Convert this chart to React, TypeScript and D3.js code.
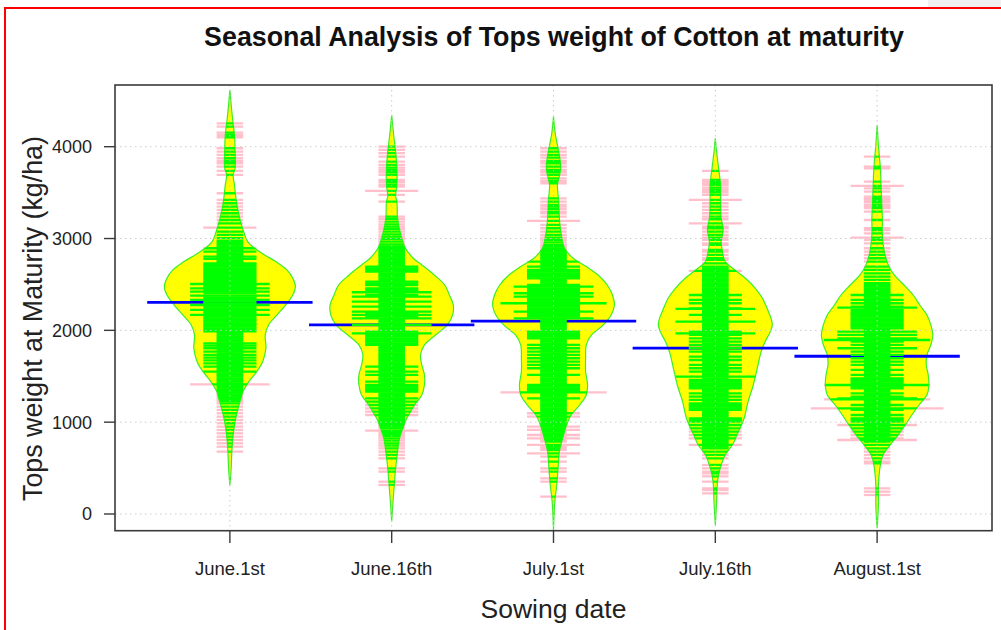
import React from "react";
import * as d3 from "d3";

// ---------- data ----------
const sowingDates = ["June.1st", "June.16th", "July.1st", "July.16th", "August.1st"];
const yTicks = [0, 1000, 2000, 3000, 4000];
const beanMeans = [2305, 2059, 2100, 1806, 1718];

// observations (kg/ha); repeated values = tied observations (longer bean lines)
const juneFirstObs = [
  4255, 4219, 4154, 4128, 4103, 3983, 3947, 3911, 3874, 3845, 3820, 3783, 3736, 3693, 3493, 3420, 3384, 3348, 3311, 3275, 3239, 3202, 3166, 3119, 3119, 3075, 3039, 3003,
  2972, 2951, 2933, 2914, 2894, 2894, 2876, 2858, 2858, 2839, 2820, 2803, 2803, 2785, 2778, 2778, 2761, 2745, 2730, 2730,
  2712, 2712, 2693, 2693, 2675, 2675, 2656, 2656, 2638, 2638, 2619, 2619, 2600, 2600, 2581, 2581, 2562, 2562, 2543, 2543, 2524, 2524, 2505, 2505, 2505,
  2487, 2487, 2470, 2470, 2458, 2458, 2458, 2440, 2440, 2422, 2422, 2422, 2403, 2403, 2378, 2378, 2378, 2360, 2360, 2345, 2345, 2331, 2331, 2331,
  2312, 2312, 2294, 2294, 2276, 2276, 2276, 2258, 2258, 2240, 2240, 2222, 2222, 2222, 2204, 2204, 2186, 2186, 2168, 2168, 2168, 2150, 2150, 2131, 2131,
  2113, 2113, 2095, 2095, 2077, 2077, 2059, 2059, 2041, 2041, 2022, 2022, 2004, 2004, 1990, 1990,
  1972, 1953, 1934, 1915, 1896, 1877, 1859, 1859, 1840, 1833, 1833, 1820, 1805, 1805, 1787, 1768, 1768, 1750, 1732, 1732, 1716, 1703, 1703, 1688,
  1674, 1674, 1658, 1641, 1641, 1623, 1605, 1605, 1587, 1568, 1550, 1550, 1532, 1514, 1496, 1478, 1460, 1441, 1423, 1412, 1412, 1412, 1395, 1377,
  1358, 1340, 1321, 1303, 1285, 1266, 1248, 1230,
  1205, 1169, 1133, 1097, 1060, 1024, 988, 951, 915, 879, 842, 806, 770, 733, 679,
];

const juneSixteenthObs = [
  4001, 3965, 3929, 3892, 3838, 3802, 3772, 3747, 3722, 3693, 3638, 3613, 3584, 3566, 3518, 3518, 3475, 3402, 3239, 3213, 3184, 3155, 3130, 3104,
  3075, 3046, 3021, 2995, 2966, 2937, 2914, 2894, 2876, 2858, 2839,
  2821, 2802, 2783, 2765, 2746, 2728, 2710, 2694, 2694, 2676, 2676, 2658, 2658, 2640, 2640, 2621, 2603, 2585, 2567, 2549, 2531, 2531, 2512, 2512,
  2494, 2494, 2476, 2458, 2458, 2440, 2440, 2422, 2422, 2415, 2415, 2415, 2403, 2385, 2385, 2367, 2367, 2367, 2349, 2331, 2313, 2313, 2313, 2294,
  2276, 2258, 2258, 2258, 2240, 2222, 2204, 2204, 2204, 2186, 2186, 2168, 2168, 2168, 2150, 2150, 2131, 2131, 2131, 2113, 2095, 2077, 2059, 2059, 2059,
  2041, 2022, 2004, 1986, 1986, 1968, 1968, 1968, 1950, 1950, 1932, 1932, 1913, 1913, 1895, 1895, 1877, 1877, 1859, 1859, 1841, 1841,
  1823, 1805, 1787, 1768, 1750, 1732, 1714, 1696, 1678, 1659, 1641, 1623, 1605, 1605, 1587, 1568, 1550, 1550, 1532, 1514, 1514, 1496, 1478, 1460,
  1441, 1441, 1423, 1405, 1405, 1387, 1387, 1369, 1369, 1351, 1351, 1333, 1333, 1314, 1296, 1278, 1260, 1260, 1242, 1224, 1224, 1205, 1187, 1187,
  1169, 1151, 1151, 1133, 1115, 1115, 1097, 1078, 1078, 1060, 1042, 1024, 1006,
  988, 969, 951, 933, 908, 908, 890, 870, 850, 824, 800, 770, 745, 715, 679, 643, 606, 497, 461, 352, 316,
];

const julyFirstObs = [
  3983, 3947, 3911, 3881, 3845, 3820, 3783, 3747, 3722, 3693, 3656, 3627, 3602, 3438, 3402, 3366, 3348, 3322, 3293, 3275, 3239, 3192, 3192,
  3148, 3112, 3075, 3039, 3010, 2985, 2959,
  2930, 2911, 2893, 2875, 2857, 2839, 2821, 2803, 2785, 2767, 2749, 2749, 2731, 2712, 2694, 2694, 2676, 2658, 2658, 2640, 2640, 2621, 2621,
  2603, 2603, 2585, 2585, 2567, 2567, 2549, 2531, 2512, 2494, 2494, 2476, 2476, 2476, 2458, 2458, 2440, 2440, 2422, 2422, 2404, 2404, 2404,
  2385, 2385, 2367, 2367, 2367, 2349, 2349, 2331, 2331, 2313, 2313, 2295, 2295, 2295, 2295, 2276, 2276, 2258, 2258, 2240, 2240, 2222, 2222,
  2204, 2204, 2204, 2186, 2186, 2168, 2168, 2150, 2150, 2131, 2131, 2131, 2113, 2095, 2077, 2059, 2041, 2022, 2004,
  1986, 1986, 1968, 1968, 1950, 1950, 1932, 1932, 1913, 1913, 1895, 1877, 1859, 1841, 1841, 1823, 1805, 1805, 1787, 1768, 1768, 1750,
  1732, 1732, 1714, 1696, 1696, 1678, 1659, 1659, 1641, 1623, 1623, 1605, 1587, 1587, 1568, 1550, 1532, 1514, 1514, 1496, 1478, 1460, 1441, 1423,
  1405, 1405, 1387, 1387, 1369, 1369, 1351, 1351, 1333, 1333, 1325, 1325, 1325, 1325, 1314, 1296, 1278, 1260, 1260, 1242, 1224, 1205, 1187,
  1169, 1151, 1133,
  1115, 1097, 1097, 1078, 1060, 1060, 1042, 1024, 1006, 988, 969, 951, 951, 933, 915, 915, 897, 879, 860, 860, 842, 824, 824, 806, 788,
  752, 752, 733, 715, 697, 661, 661, 625, 570, 497, 461, 388, 352, 189,
];

const julySixteenthObs = [
  3736, 3638, 3620, 3602, 3584, 3555, 3529, 3504, 3475, 3420, 3420, 3384, 3348, 3311, 3275, 3239, 3210, 3166, 3166, 3130, 3112, 3075, 3039,
  3010, 2985, 2948, 2930, 2876, 2858, 2821, 2785, 2767, 2730, 2694, 2647, 2647,
  2676, 2658, 2640, 2621, 2603, 2585, 2567, 2549, 2531, 2512, 2494, 2476, 2458, 2440, 2422, 2404, 2385, 2385, 2367, 2349, 2331, 2331, 2313,
  2295, 2295, 2276, 2258, 2240, 2240, 2233, 2233, 2233, 2222, 2204, 2186, 2168, 2168, 2150, 2131, 2113, 2095, 2095, 2095, 2077, 2059, 2041,
  2022, 2004, 1986, 1986, 1968, 1968, 1968, 1950, 1950, 1932, 1913, 1913, 1895, 1877, 1877, 1859, 1841, 1841, 1823, 1805, 1805, 1787, 1768, 1768,
  1750, 1732, 1714, 1714, 1696, 1677, 1677, 1659, 1641, 1623, 1623, 1605, 1587, 1587, 1568, 1550, 1550, 1532, 1514, 1496, 1496, 1496, 1478,
  1460, 1460, 1441, 1441, 1423, 1423, 1405, 1405, 1387, 1387, 1369, 1369, 1351, 1333, 1314, 1314, 1296, 1278, 1278, 1260, 1242, 1242, 1224,
  1205, 1205, 1187, 1187, 1169, 1169, 1151, 1151, 1133, 1133, 1115, 1097, 1078, 1060, 1042, 1042, 1024, 1024, 1006, 1006, 988, 969, 969, 951,
  933, 933, 915, 897, 897, 879, 860, 860, 842, 824, 824, 806, 788, 770, 752, 752, 733,
  715, 679, 643, 606, 534, 497, 461, 443, 410, 352, 279, 261, 225,
];

const augustFirstObs = [
  3892, 3783, 3765, 3620, 3573, 3573, 3547, 3511, 3457, 3438, 3420, 3395, 3366, 3348, 3330, 3293, 3202, 3112, 3093, 3057, 3010, 3010, 2985,
  2948, 2894, 2858, 2821, 2785, 2749, 2694, 2658, 2621, 2585, 2549, 2513,
  2494, 2476, 2458, 2440, 2422, 2404, 2385, 2385, 2367, 2349, 2331, 2331, 2313, 2295, 2295, 2276, 2258, 2258, 2247, 2247, 2247, 2240,
  2222, 2222, 2204, 2204, 2186, 2186, 2168, 2168, 2150, 2150, 2131, 2131, 2113, 2113, 2095, 2095, 2077, 2077, 2059, 2059, 2041, 2041,
  2022, 2022, 2004, 1986, 1986, 1986, 1968, 1950, 1950, 1950, 1932, 1913, 1913, 1913, 1895, 1895, 1895, 1895, 1877, 1877, 1859, 1841, 1841,
  1823, 1805, 1805, 1805, 1787, 1768, 1768, 1750, 1732, 1732, 1714, 1696, 1696, 1678, 1659, 1659, 1641, 1623, 1623, 1605, 1587, 1569, 1569,
  1550, 1532, 1514, 1514, 1496, 1478, 1478, 1460, 1460, 1441, 1441, 1423, 1423, 1405, 1405, 1405, 1405, 1387, 1387, 1369, 1369, 1351, 1333,
  1314, 1314, 1296, 1278, 1278, 1260, 1260, 1260, 1249, 1249, 1249, 1249, 1242, 1224, 1205, 1187, 1187, 1169, 1151, 1151, 1151, 1151, 1151,
  1133, 1133, 1115, 1097, 1078, 1078, 1060, 1042, 1042, 1024, 1024, 1006, 1006,
  988, 969, 969, 969, 951, 933, 933, 915, 897, 897, 879, 860, 860, 842, 824, 824, 806, 806, 806, 788, 752, 715, 679, 643, 606, 570, 552,
  279, 243, 207,
];

// density outlines: [kg/ha, relative density in % of the widest bean]
const juneFirstDensity = [
  [4619, 0], [4455, 2], [4310, 4], [4128, 7], [3947, 8], [3765, 8], [3693, 5], [3584, 7], [3402, 10], [3221, 15], [3075, 21], [2966, 27],
  [2894, 38], [2821, 53], [2749, 70], [2658, 87], [2567, 96], [2476, 100], [2385, 96], [2276, 85], [2168, 72], [2059, 59], [1950, 54],
  [1805, 55], [1659, 50], [1550, 41], [1441, 29], [1333, 20], [1260, 17], [1187, 14], [1042, 9], [860, 5], [679, 3], [497, 2], [316, 0],
];
const juneSixteenthDensity = [
  [4346, 0], [4128, 3], [3947, 6], [3765, 8], [3584, 8], [3460, 6], [3402, 8], [3221, 9], [3039, 14], [2894, 21], [2785, 33], [2712, 46],
  [2603, 65], [2494, 81], [2385, 88], [2276, 94], [2168, 93], [2059, 85], [1950, 67], [1841, 50], [1732, 44], [1623, 46], [1514, 50],
  [1405, 50], [1296, 46], [1187, 35], [1078, 26], [1042, 23], [933, 17], [824, 12], [679, 9], [497, 6], [316, 4], [134, 2], [-83, 0],
];
const julyFirstDensity = [
  [4328, 0], [4128, 3], [3947, 8], [3765, 11], [3650, 8], [3584, 6], [3402, 8], [3221, 9], [3039, 12], [2894, 17], [2785, 30], [2694, 50],
  [2603, 68], [2494, 82], [2385, 90], [2276, 93], [2168, 88], [2059, 76], [1950, 58], [1841, 50], [1696, 49], [1550, 49], [1405, 52],
  [1296, 50], [1187, 40], [1078, 27], [969, 20], [824, 14], [679, 9], [497, 7], [316, 5], [134, 2], [-175, 0],
];
const julySixteenthDensity = [
  [4092, 0], [3947, 2], [3765, 5], [3584, 8], [3402, 8], [3221, 9], [3112, 12], [3040, 11], [2966, 9], [2858, 11], [2749, 15], [2658, 30],
  [2567, 46], [2458, 61], [2349, 72], [2240, 79], [2131, 85], [2059, 87], [1986, 84], [1877, 76], [1768, 70], [1587, 64], [1405, 58],
  [1224, 50], [1042, 44], [860, 33], [752, 26], [643, 15], [534, 9], [425, 5], [316, 3], [134, 2], [-120, 0],
];
const augustFirstDensity = [
  [4237, 0], [4019, 2], [3765, 5], [3584, 6], [3402, 7], [3221, 8], [3039, 8], [2858, 11], [2712, 17], [2603, 26], [2494, 41], [2385, 55],
  [2276, 65], [2168, 76], [2059, 82], [1950, 85], [1841, 82], [1732, 76], [1623, 75], [1514, 78], [1405, 79], [1296, 76], [1187, 64],
  [1078, 53], [969, 43], [860, 32], [752, 20], [643, 9], [534, 5], [316, 2], [98, 2], [-156, 0],
];

const allObs = [juneFirstObs, juneSixteenthObs, julyFirstObs, julySixteenthObs, augustFirstObs];
const allDensity = [juneFirstDensity, juneSixteenthDensity, julyFirstDensity, julySixteenthDensity, augustFirstDensity];

// ---------- chart ----------
const W = 1001;
const H = 630;
const FONT = "'Liberation Sans', Arial, Helvetica, sans-serif";

export default function App() {
  const plot = { left: 115, right: 992, top: 85, bottom: 530.7 };
  const x = d3.scaleLinear().domain([0.29, 5.71]).range([plot.left, plot.right]);
  const y = d3.scaleLinear().domain([-182, 4672]).range([plot.bottom, plot.top]);
  const unit = x(1) - x(0);
  const maxHalf = 0.405 * unit;
  const lineHalf = 0.082 * unit;
  const meanHalf = 0.511 * unit;
  const lw = 2.3;

  const beans = sowingDates.map((name, i) => {
    const cx = x(i + 1);
    const area = d3
      .area<number[]>()
      .y((d) => y(d[0]))
      .x0((d) => cx - (d[1] / 100) * maxHalf)
      .x1((d) => cx + (d[1] / 100) * maxHalf)
      .curve(d3.curveCatmullRom.alpha(0.5));
    const path = area(allDensity[i]) || "";
    const counts = Array.from(d3.rollup(allObs[i], (v) => v.length, (d) => d));
    return { name, cx, path, counts, mean: beanMeans[i] };
  });

  return (
    <svg
      width={W}
      height={H}
      style={{ position: "absolute", left: 0, top: 0, background: "#fff" }}
      fontFamily={FONT}
    >
      <rect x={0} y={0} width={W} height={H} fill="#fff" />
      <rect x={928} y={0} width={W - 928} height={7} fill="#f0f0f0" />
      {/* red frame */}
      <line x1={4} y1={8} x2={W} y2={8} stroke="#ff0000" strokeWidth={2} />
      <line x1={5} y1={7} x2={5} y2={H} stroke="#ff0000" strokeWidth={2} />

      <defs>
        {beans.map((b, i) => (
          <clipPath id={`bean-clip-${i}`} key={i}>
            <path d={b.path} />
          </clipPath>
        ))}
        <clipPath id="plot-clip">
          <rect x={plot.left} y={plot.top} width={plot.right - plot.left} height={plot.bottom - plot.top} />
        </clipPath>
      </defs>

      <g clipPath="url(#plot-clip)">
        {beans.map((b, i) => (
          <g key={b.name}>
            {/* bean lines (outside colour) */}
            {b.counts.map(([v, c]) => (
              <line
                key={`p${v}`}
                x1={b.cx - c * lineHalf}
                x2={b.cx + c * lineHalf}
                y1={y(v)}
                y2={y(v)}
                stroke="#ffc0cb"
                strokeWidth={lw}
              />
            ))}
            {/* bean polygon */}
            <path d={b.path} fill="#ffff00" stroke="#3cee2a" strokeWidth={1.2} />
            {/* bean mean line */}
            <line
              x1={b.cx - meanHalf}
              x2={b.cx + meanHalf}
              y1={y(b.mean)}
              y2={y(b.mean)}
              stroke="#0000ff"
              strokeWidth={2.8}
            />
            {/* bean lines inside polygon */}
            <g clipPath={`url(#bean-clip-${i})`}>
              {b.counts.map(([v, c]) => (
                <line
                  key={`g${v}`}
                  x1={b.cx - c * lineHalf}
                  x2={b.cx + c * lineHalf}
                  y1={y(v)}
                  y2={y(v)}
                  stroke="#00ff00"
                  strokeWidth={lw}
                />
              ))}
            </g>
          </g>
        ))}

        {/* grid */}
        {yTicks.map((t) => (
          <line
            key={`gy${t}`}
            x1={plot.left}
            x2={plot.right}
            y1={y(t)}
            y2={y(t)}
            stroke="#cccccc"
            strokeWidth={1}
            strokeDasharray="1.5,3.5"
          />
        ))}
        {sowingDates.map((s, i) => (
          <line
            key={`gx${s}`}
            x1={x(i + 1)}
            x2={x(i + 1)}
            y1={plot.top}
            y2={plot.bottom}
            stroke="#cccccc"
            strokeWidth={1}
            strokeDasharray="1.5,3.5"
          />
        ))}
      </g>

      {/* box */}
      <rect
        x={plot.left}
        y={plot.top}
        width={plot.right - plot.left}
        height={plot.bottom - plot.top}
        fill="none"
        stroke="#3a3a3a"
        strokeWidth={1.6}
      />

      {/* y axis */}
      {yTicks.map((t) => (
        <g key={`yt${t}`}>
          <line x1={104} x2={plot.left} y1={y(t)} y2={y(t)} stroke="#3a3a3a" strokeWidth={1.4} />
          <text x={92} y={y(t) + 6.5} textAnchor="end" fontSize={18} fill="#222">
            {t}
          </text>
        </g>
      ))}

      {/* x axis */}
      {sowingDates.map((s, i) => (
        <g key={`xt${s}`}>
          <line x1={x(i + 1)} x2={x(i + 1)} y1={plot.bottom} y2={543} stroke="#3a3a3a" strokeWidth={1.4} />
          <text x={x(i + 1)} y={575} textAnchor="middle" fontSize={18.5} fill="#222">
            {s}
          </text>
        </g>
      ))}

      {/* titles */}
      <text x={554} y={46} textAnchor="middle" fontSize={26.8} fontWeight="bold" fill="#111">
        Seasonal Analysis of Tops weight of Cotton at maturity
      </text>
      <text x={553.5} y={618} textAnchor="middle" fontSize={26.5} fill="#222">
        Sowing date
      </text>
      <text
        transform={`translate(42, 318.5) rotate(-90)`}
        textAnchor="middle"
        fontSize={26.8}
        fill="#222"
      >
        Tops weight at Maturity (kg/ha)
      </text>
    </svg>
  );
}
